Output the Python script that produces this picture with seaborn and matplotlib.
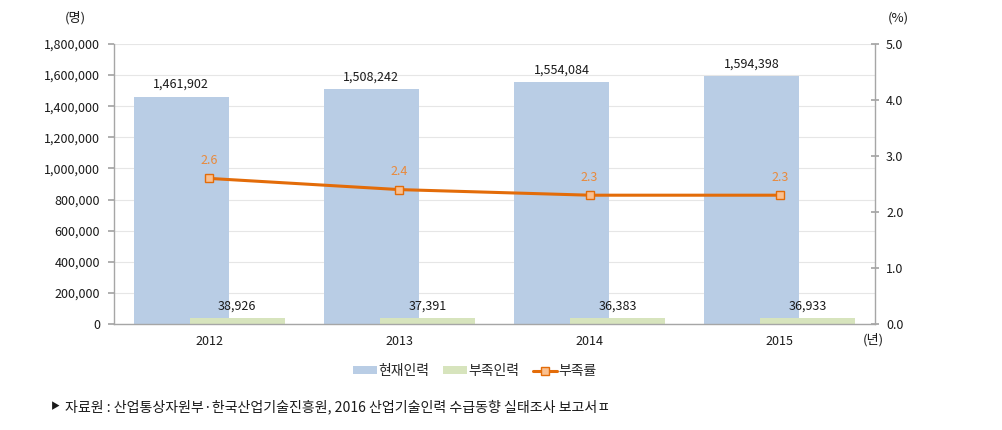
import numpy as np
import pandas as pd
import matplotlib
matplotlib.use("Agg")
import matplotlib.pyplot as plt
import seaborn as sns
from matplotlib.patches import Patch
from matplotlib.lines import Line2D
from matplotlib.ticker import FuncFormatter, MultipleLocator, FixedLocator

years = ["2012", "2013", "2014", "2015"]
current = [1461902, 1508242, 1554084, 1594398]
shortage = [38926, 37391, 36383, 36933]
rate = [2.6, 2.4, 2.3, 2.3]
series_names = ["현재인력", "부족인력", "부족률"]

sns.set_theme(style="white")
plt.rcParams["font.family"] = ["Noto Sans CJK KR", "DejaVu Sans"]

BLUE = "#B9CDE5"
GREEN = "#D7E4BD"
ORANGE = "#E36C09"
MARKER_FACE = "#FAC090"
LABEL_ORANGE = "#E98A3C"
AXIS_GRAY = "#A6A6A6"
GRID = "#E6E6E6"
TXT = "#1a1a1a"

fig = plt.figure(figsize=(10.03, 4.30), dpi=100)
ax = fig.add_axes([114/1003, 1-324/430, (875-114)/1003, (324-44)/430])

df = pd.DataFrame({"year": years, "current": current, "shortage": shortage, "rate": rate})

offset = 0.147
sns.barplot(data=df, x="year", y="current", color=BLUE, width=0.5, ax=ax,
            saturation=1, errorbar=None)
n1 = len(ax.patches)
sns.barplot(data=df, x="year", y="shortage", color=GREEN, width=0.5, ax=ax,
            saturation=1, errorbar=None)
for i, p in enumerate(ax.patches):
    p.set_linewidth(0)
    if i < n1:
        p.set_x(p.get_x() - offset)
    else:
        p.set_x(p.get_x() + offset)

for i, p in enumerate(ax.patches):
    val = current[i] if i < n1 else shortage[i - n1]
    cx = p.get_x() + p.get_width() / 2
    ax.annotate(f"{val:,}", (cx, p.get_height()), xytext=(0, 4), textcoords="offset points",
                ha="center", va="bottom", fontsize=9, color=TXT)

ax.set_xlim(-0.5, 3.5)
ax.set_ylim(0, 1800000)
ax.yaxis.set_major_locator(MultipleLocator(200000))
ax.yaxis.set_major_formatter(FuncFormatter(lambda v, _: f"{int(v):,}"))
ax.grid(axis="y", color=GRID, linewidth=0.8)
ax.set_axisbelow(True)
ax.set_xlabel("")
ax.set_ylabel("")

ax.xaxis.set_minor_locator(FixedLocator([-0.5, 0.5, 1.5, 2.5, 3.5]))
ax.tick_params(axis="x", which="major", length=0, labelsize=9, colors=TXT, pad=8)
ax.tick_params(axis="x", which="minor", length=5, color=AXIS_GRAY, direction="out")
ax.tick_params(axis="y", length=4, color=AXIS_GRAY, labelsize=9, labelcolor=TXT, direction="out", pad=6)

for s in ["top", "right"]:
    ax.spines[s].set_visible(False)
for s in ["left", "bottom"]:
    ax.spines[s].set_color(AXIS_GRAY)
    ax.spines[s].set_linewidth(1)

ax2 = ax.twinx()
sns.lineplot(data=df, x="year", y="rate", ax=ax2, color=ORANGE, linewidth=2.2,
             marker="s", markersize=6, markerfacecolor=MARKER_FACE,
             markeredgecolor=ORANGE, markeredgewidth=1)
ax2.set_ylim(0, 5)
ax2.yaxis.set_major_locator(MultipleLocator(1))
ax2.yaxis.set_major_formatter(FuncFormatter(lambda v, _: f"{v:.1f}"))
ax2.set_ylabel("")
ax2.set_xlabel("")
ax2.tick_params(axis="y", length=6, color=AXIS_GRAY, labelsize=9, labelcolor=TXT, direction="inout", pad=5)
for s in ["top", "left", "bottom"]:
    ax2.spines[s].set_visible(False)
ax2.spines["right"].set_color(AXIS_GRAY)
ax2.spines["right"].set_linewidth(1)
ax2.grid(False)
for i, v in enumerate(rate):
    ax2.annotate(f"{v:.1f}", (i, v), xytext=(0, 8), textcoords="offset points",
                 ha="center", va="bottom", fontsize=9, color=LABEL_ORANGE)

fig.text(75/1003, 1-18/430, "(명)", ha="center", va="center", fontsize=9.5, color=TXT)
fig.text(898/1003, 1-18/430, "(%)", ha="center", va="center", fontsize=9.5, color=TXT)
fig.text(873/1003, 1-340/430, "(년)", ha="center", va="center", fontsize=9.5, color=TXT)

handles = [Patch(facecolor=BLUE, edgecolor="none"),
           Patch(facecolor=GREEN, edgecolor="none"),
           Line2D([0], [0], color=ORANGE, lw=2.2, marker="s", markersize=6,
                  markerfacecolor=MARKER_FACE, markeredgecolor=ORANGE)]
fig.legend(handles, series_names, loc="center", bbox_to_anchor=(475/1003, 1-371/430),
           ncol=3, frameon=False, fontsize=10, handlelength=1.7, handleheight=0.5,
           handletextpad=0.1, columnspacing=1.0)

fig.text(55/1003, 1-407/430, "▶", ha="center", va="center", fontsize=6.5, color=TXT)
fig.text(65/1003, 1-407/430,
         "자료원 : 산업통상자원부·한국산업기술진흥원, 2016 산업기술인력 수급동향 실태조사 보고서ㅍ",
         ha="left", va="center", fontsize=10.1, color=TXT)

fig.savefig("out.png", dpi=100)
